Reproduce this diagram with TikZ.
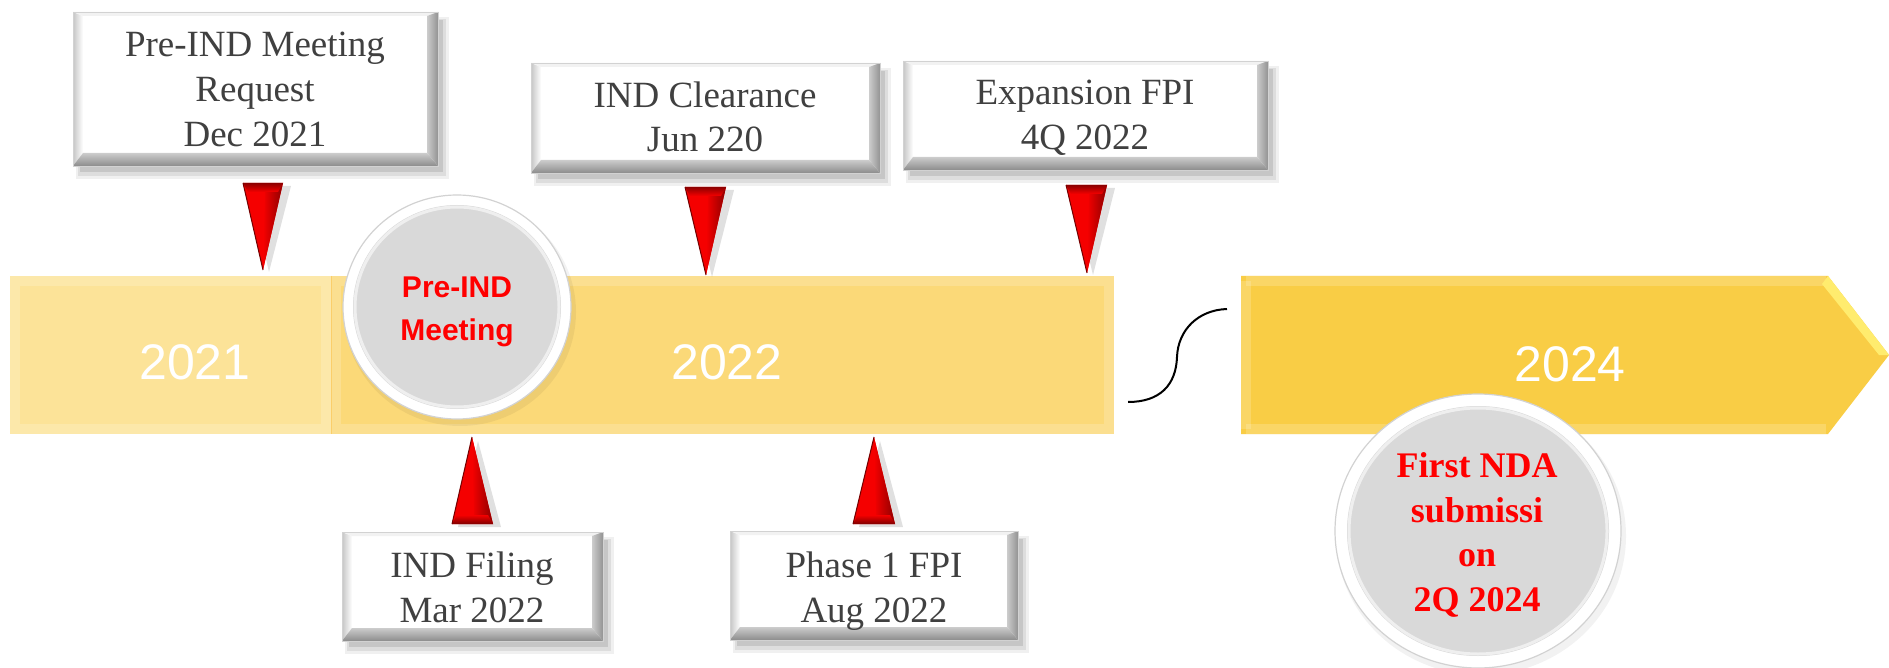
\documentclass[tikz,border=0pt]{standalone}
\usepackage{fontspec}
\setmainfont{Liberation Serif}
\newfontfamily\arialfont{Liberation Sans}
\definecolor{textgray}{HTML}{404040}
\definecolor{bandA}{HTML}{FCE398}
\definecolor{bandB}{HTML}{FBD978}
\definecolor{bandC}{HTML}{F9CD45}
\definecolor{tipbevel}{HTML}{FFEC6E}
\definecolor{arrowred}{HTML}{F50000}
\definecolor{ringgray}{HTML}{D9D9D9}

\tikzset{
  boxlabel/.style={font=\fontsize{37}{44}\selectfont, text=textgray, inner sep=0pt, anchor=base},
  ndalabel/.style={font=\fontsize{36}{45}\selectfont\bfseries, text=red, inner sep=0pt, anchor=base},
  meetlabel/.style={font=\arialfont\bfseries\fontsize{30}{43}\selectfont, text=red, inner sep=0pt, anchor=base},
  yearlabel/.style={font=\arialfont\fontsize{50}{60}\selectfont, text=white, inner sep=0pt, anchor=base},
  bandframe/.style={white, opacity=0.18, line width=10pt},
  breakline/.style={black, line width=2pt},
}

% bevelled label box: x1 y1 x2 y2
\newcommand\bevbox[4]{%
  \fill[black,opacity=0.06] ({#1+3},{#2+5}) rectangle ({#3+11},{#4+13});
  \fill[black,opacity=0.08] ({#1+5},{#2+7}) rectangle ({#3+8},{#4+10});
  \fill[black,opacity=0.10] ({#1+7},{#2+8}) rectangle ({#3+5},{#4+6});
  \fill[white] (#1,#2) rectangle (#3,#4);
  \shade[left color=gray!45, right color=white] (#1,#2) -- ({#1+10},{#2+4}) -- ({#1+10},{#4-13}) -- (#1,#4) -- cycle;
  \fill[gray!10] (#1,#2) -- (#3,#2) -- ({#3-11},{#2+4}) -- ({#1+10},{#2+4}) -- cycle;
  \shade[left color=gray!40, right color=gray!85] (#3,#2) -- (#3,#4) -- ({#3-11},{#4-13}) -- ({#3-11},{#2+4}) -- cycle;
  \shade[top color=gray!40, bottom color=gray!90] (#1,#4) -- (#3,#4) -- ({#3-11},{#4-13}) -- ({#1+10},{#4-13}) -- cycle;
  \draw[gray!35, line width=0.8pt] (#1,#2) rectangle (#3,#4);
}

% downward red pointer: xl xr xc ytop ytip
\newcommand\downtri[5]{%
  \fill[black,opacity=0.12] ({#1+6},{#4+3}) -- ({#2+8},{#4+3}) -- ({#3+6},{#5+2}) -- cycle;
  \fill[arrowred] (#1,#4) -- (#2,#4) -- (#3,#5) -- cycle;
  \shade[left color=arrowred, right color=red!55!black] ({#3+2},{#4+9}) -- (#2,#4) -- (#3,#5) -- cycle;
  \shade[top color=red!55!black, bottom color=arrowred] (#1,#4) -- (#2,#4) -- ({#2-5},{#4+9}) -- ({#1+5},{#4+9}) -- cycle;
  \draw[red!45!black, line width=1pt] (#1,#4) -- (#3,#5);
}

% upward red pointer: xl xr xc ytip ybase
\newcommand\uptri[5]{%
  \fill[black,opacity=0.12] ({#1+6},{#5+3}) -- ({#2+8},{#5+3}) -- ({#3+6},{#4+4}) -- cycle;
  \fill[arrowred] (#1,#5) -- (#2,#5) -- (#3,#4) -- cycle;
  \shade[left color=arrowred, right color=red!55!black] ({#3+2},{#5-9}) -- (#2,#5) -- (#3,#4) -- cycle;
  \shade[top color=arrowred, bottom color=red!50!black] (#1,#5) -- (#2,#5) -- ({#2-5},{#5-9}) -- ({#1+5},{#5-9}) -- cycle;
  \draw[red!45!black, line width=1pt] (#1,#5) -- (#3,#4);
}

% ringed disc: cx cy rx ry ring
\newcommand\ringdisc[5]{%
  \fill[black,opacity=0.05] ({#1+3},{#2+5}) ellipse ({#3+2} and {#4+2});
  \fill[white] (#1,#2) ellipse (#3 and #4);
  \draw[gray!35, line width=1.2pt] (#1,#2) ellipse (#3 and #4);
  \fill[ringgray] (#1,#2) ellipse ({#3-#5} and {#4-#5});
  \draw[white, opacity=0.6, line width=3pt] (#1,#2) ellipse ({#3-#5-2} and {#4-#5-2});
}

\begin{document}
\begin{tikzpicture}[x=1pt,y=-1pt]
\useasboundingbox (0,0) rectangle (1889,668);
\fill[white] (0,0) rectangle (1889,668);

% timeline bands
\fill[bandA] (10,276) rectangle (331,434);
\draw[bandframe] (15,281) rectangle (326,429);
\fill[bandB] (331,276) rectangle (1114,434);
\draw[bandframe] (336,281) rectangle (1109,429);
\draw[orange!12!bandB, line width=1pt] (331,276) -- (331,434);
\fill[bandC] (1241,276) -- (1828,276) -- (1889,355) -- (1828,434) -- (1241,434) -- cycle;
\draw[bandframe] (1246,281) -- (1826,281);
\draw[bandframe] (1246,429) -- (1826,429);
\draw[bandframe] (1246,281) -- (1246,429);
\fill[tipbevel] (1828,276) -- (1889,355) -- (1879,355) -- (1822,284) -- cycle;

% break symbol
\coordinate (brkA) at (1128,402);
\coordinate (brkB) at (1227,309);
\draw[breakline] (brkA) .. controls (1160,402) and (1176,385) .. (1177,357)
                        .. controls (1178,330) and (1198,310) .. (brkB);

% year labels
\node[yearlabel] (y2021) at (195,379) {2021};
\node[yearlabel] (y2022) at (727,379) {2022};
\node[yearlabel] (y2024) at (1570,381) {2024};

% pointers
\downtri{243}{283}{263}{183}{270}
\downtri{685}{726}{706}{187}{275}
\downtri{1066}{1107}{1087}{185}{273}
\uptri{452}{493}{472}{437}{524}
\uptri{853}{895}{874}{437}{524}

% discs
\ringdisc{457}{307}{114}{112}{10}
\node[meetlabel] (meet1) at (457,297) {Pre-IND};
\node[meetlabel] (meet2) at (457,340) {Meeting};

\ringdisc{1478}{531}{143}{137}{12}
\node[ndalabel] (nda1) at (1477,477) {First NDA};
\node[ndalabel] (nda2) at (1477,522) {submissi};
\node[ndalabel] (nda3) at (1477,566) {on};
\node[ndalabel] (nda4) at (1477,611) {2Q 2024};

% label boxes
\bevbox{73}{12}{438}{166}
\node[boxlabel] (b1a) at (255,57) {Pre-IND Meeting};
\node[boxlabel] (b1b) at (255,102) {Request};
\node[boxlabel] (b1c) at (255,147) {Dec 2021};

\bevbox{531}{63}{880}{173}
\node[boxlabel] (b2a) at (705,108) {IND Clearance};
\node[boxlabel] (b2b) at (705,152) {Jun 220};

\bevbox{903}{61}{1268}{170}
\node[boxlabel] (b3a) at (1085,105) {Expansion FPI};
\node[boxlabel] (b3b) at (1085,150) {4Q 2022};

\bevbox{342}{532}{603}{641}
\node[boxlabel] (b4a) at (472,577) {IND Filing};
\node[boxlabel] (b4b) at (472,622) {Mar 2022};

\bevbox{730}{531}{1018}{640}
\node[boxlabel] (b5a) at (874,577) {Phase 1 FPI};
\node[boxlabel] (b5b) at (874,622) {Aug 2022};
\end{tikzpicture}
\end{document}
